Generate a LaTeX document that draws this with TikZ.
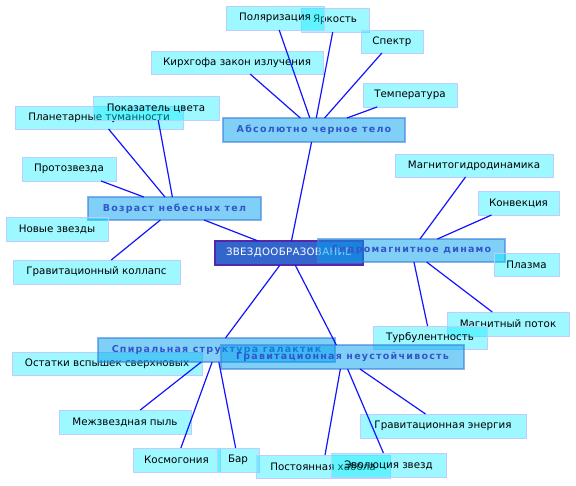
\documentclass[tikz,border=0pt]{standalone}
\usepackage{fontspec}
\setmainfont{DejaVu Sans}
\newfontface\topicfont{DejaVu Sans Bold}[LetterSpace=13]
\newfontface\corefont{DejaVu Sans}[LetterSpace=3]
\definecolor{leaffill}{RGB}{0,238,255}
\definecolor{leafdraw}{RGB}{190,205,255}
\definecolor{topicfill}{RGB}{0,160,240}
\definecolor{topicdraw}{RGB}{60,130,220}
\definecolor{topictext}{RGB}{51,85,204}
\definecolor{corefill}{RGB}{51,102,204}
\definecolor{coredraw}{RGB}{85,40,170}
\definecolor{linkcol}{RGB}{20,20,255}
\tikzset{
  box/.style={rectangle, inner sep=0pt, outer sep=0pt, text opacity=1},
  leaf/.style={box, fill=leaffill, fill opacity=0.38, draw=leafdraw, line width=1pt,
    font=\fontsize{10.3}{12}\selectfont, text=black},
  topic/.style={box, fill=topicfill, fill opacity=0.5, draw=topicdraw, draw opacity=0.6,
    line width=1.5pt, font=\topicfont\fontsize{9.5}{12}\selectfont, text=topictext},
  core/.style={box, fill=corefill, draw=coredraw, line width=1.2pt,
    font=\corefont\fontsize{10.2}{12}\selectfont, text=white},
  link/.style={draw=linkcol, line width=1.2pt},
}
\begin{document}
\begin{tikzpicture}[x=1pt,y=-1pt]
\useasboundingbox[fill=white] (0,0) rectangle (576,485);
% centre
\node[core, minimum width=148pt, minimum height=24pt] (c) at (289,253) {ЗВЕЗДООБРАЗОВАНИЕ};
% Абсолютно черное тело
\node[topic, minimum width=182pt, minimum height=24pt] (abs) at (314,130) {Абсолютно черное тело};
\node[leaf, minimum width=68pt, minimum height=24pt] (yar) at (335,20) {Яркость};
\node[leaf, minimum width=98pt, minimum height=24pt] (pol) at (275,18) {Поляризация};
\node[leaf, minimum width=62pt, minimum height=23pt] (spe) at (392,41.5) {Спектр};
\node[leaf, minimum width=172pt, minimum height=23pt] (kir) at (237,62.5) {Кирхгофа закон излучения};
\node[leaf, minimum width=94pt, minimum height=24pt] (tem) at (410,95) {Температура};
% Возраст небесных тел
\node[topic, minimum width=173pt, minimum height=23pt] (voz) at (174.5,208.5) {Возраст небесных тел};
\node[leaf, minimum width=168pt, minimum height=23pt] (pla) at (99,117.5) {Планетарные туманности};
\node[leaf, minimum width=126pt, minimum height=24pt] (pok) at (156,108) {Показатель цвета};
\node[leaf, minimum width=94pt, minimum height=24pt] (pro) at (69,169) {Протозвезда};
\node[leaf, minimum width=102pt, minimum height=24pt] (nov) at (57,229) {Новые звезды};
\node[leaf, minimum width=167pt, minimum height=24pt] (gkol) at (96.5,272) {Гравитационный коллапс};
% Спиральная структура галактик
\node[leaf, minimum width=190pt, minimum height=23pt] (ost) at (107,363.5) {Остатки вспышек сверхновых};
\node[topic, minimum width=237pt, minimum height=24pt] (spi) at (216.5,350) {Спиральная структура галактик};
\node[leaf, minimum width=132pt, minimum height=24pt] (mez) at (125,422) {Межзвездная пыль};
\node[leaf, minimum width=87pt, minimum height=24pt] (kos) at (176.5,460) {Космогония};
\node[leaf, minimum width=42pt, minimum height=24pt] (bar) at (238,460) {Бар};
% Гидромагнитное динамо
\node[topic, minimum width=187pt, minimum height=23pt] (gid) at (411.5,250.5) {Гидромагнитное динамо};
\node[leaf, minimum width=158pt, minimum height=23pt] (mgd) at (474,165.5) {Магнитогидродинамика};
\node[leaf, minimum width=81pt, minimum height=24pt] (kon) at (518.5,203) {Конвекция};
\node[leaf, minimum width=65pt, minimum height=23pt] (plz) at (526.5,264.5) {Плазма};
\node[leaf, minimum width=122pt, minimum height=24pt] (mpo) at (508,324) {Магнитный поток};
\node[leaf, minimum width=114pt, minimum height=23pt] (tur) at (430,337.5) {Турбулентность};
% Гравитационная неустойчивость
\node[topic, minimum width=243pt, minimum height=24pt] (gra) at (342.5,357) {Гравитационная неустойчивость};
\node[leaf, minimum width=134pt, minimum height=23pt] (hab) at (323,466.5) {Постоянная хаббла};
\node[leaf, minimum width=115pt, minimum height=24pt] (evo) at (388.5,465) {Эволюция звезд};
\node[leaf, minimum width=166pt, minimum height=24pt] (gen) at (443,426) {Гравитационная энергия};
% connectors
\draw[link] (c) -- (abs);
\draw[link] (c) -- (voz);
\draw[link] (c) -- (spi);
\draw[link] (c) -- (gra);
\draw[link] (abs) -- (pol);
\draw[link] (abs) -- (yar);
\draw[link] (abs) -- (spe);
\draw[link] (abs) -- (kir);
\draw[link] (abs) -- (tem);
\draw[link] (voz) -- (pok);
\draw[link] (voz) -- (pla);
\draw[link] (voz) -- (pro);
\draw[link] (voz) -- (gkol);
\draw[link] (gid) -- (mgd);
\draw[link] (gid) -- (kon);
\draw[link] (gid) -- (mpo);
\draw[link] (gid) -- (tur);
\draw[link] (spi) -- (mez);
\draw[link] (spi) -- (kos);
\draw[link] (spi) -- (bar);
\draw[link] (gra) -- (hab);
\draw[link] (gra) -- (evo);
\draw[link] (gra) -- (gen);
\end{tikzpicture}
\end{document}
